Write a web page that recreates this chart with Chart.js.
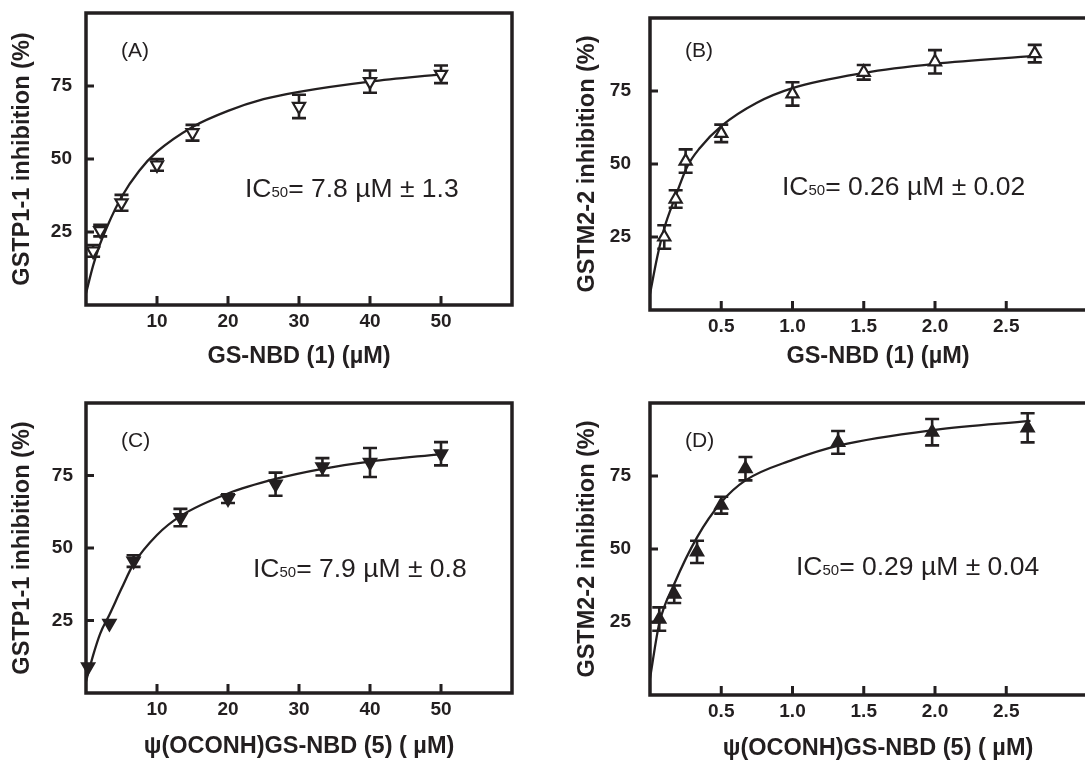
<!DOCTYPE html>
<html>
<head>
<meta charset="utf-8">
<title>GST inhibition curves</title>
<script src="https://cdn.jsdelivr.net/npm/chart.js@4.4.0/dist/chart.umd.min.js"></script>
<style>
	html, body { margin: 0; padding: 0; background: #fff; width: 1085px; height: 760px; overflow: hidden; }
	canvas { position: absolute; }
</style>
</head>
<body>
<canvas id="panelA" width="545" height="380" style="left:0px;top:0px"></canvas>
<canvas id="panelB" width="600" height="380" style="left:545px;top:0px"></canvas>
<canvas id="panelC" width="545" height="380" style="left:0px;top:380px"></canvas>
<canvas id="panelD" width="600" height="380" style="left:545px;top:380px"></canvas>
<script>
// Data (concentration in uM, inhibition in %)

// (A) GSTP1-1 / GS-NBD (1)
const concA = [1, 2, 5, 10, 15, 30, 40, 50];
const inhA = [18.5, 25.5, 35, 48, 59, 68, 76.5, 79];
const errA = [2, 2, 2.7, 2, 2.7, 4, 3.8, 3];
const curveXA = [0, 1, 2, 3, 5, 7.5, 10, 15, 20, 25, 30, 40, 50];
const curveYA = [4, 13.5, 21, 27, 37, 46, 52.5, 61, 66.5, 70.5, 73, 76.5, 79];

// (B) GSTM2-2 / GS-NBD (1)
const concB = [0.1, 0.18, 0.25, 0.5, 1.0, 1.5, 2.0, 2.7];
const inhB = [25, 38, 51, 60.5, 74, 81.4, 85, 87.8];
const errB = [4, 3, 4, 3, 4, 2.5, 4, 3];
const curveXB = [0, 0.05, 0.1, 0.18, 0.26, 0.35, 0.5, 0.75, 1.0, 1.5, 2.0, 2.7];
const curveYB = [5.5, 18, 28, 39, 49, 55.5, 63, 71, 76, 81.2, 84.3, 87];

// (C) GSTP1-1 / psi(OCONH)GS-NBD (5)
const concC = [0.3, 3.3, 6.7, 13.3, 20, 26.7, 33.3, 40, 50];
const inhC = [9, 24, 45.5, 60.5, 67, 72, 78, 79.5, 82.5];
const errC = [0, 0, 2, 3, 1.5, 4, 3, 5, 4];
const curveXC = [0, 1, 2, 3.3, 5, 6.7, 10, 13.3, 20, 26.7, 33.3, 40, 50];
const curveYC = [4, 13, 20.5, 27, 36, 44.5, 54.5, 61, 68.8, 73.8, 77.3, 79.8, 82.4];

// (D) GSTM2-2 / psi(OCONH)GS-NBD (5)
const concD = [0.065, 0.17, 0.33, 0.5, 0.67, 1.32, 1.98, 2.65];
const inhD = [26, 34.5, 49, 65, 77.5, 86.5, 90, 91.5];
const errD = [4, 3, 3.8, 2.9, 4, 3.9, 4.5, 5];
const curveXD = [0, 0.065, 0.17, 0.33, 0.5, 0.67, 1.0, 1.33, 2.0, 2.67];
const curveYD = [5.7, 24.5, 38, 54, 66, 73.5, 80.5, 85.5, 90.8, 93.9];

// Tick values
const yTicks = [25, 50, 75];
const xTicksP1 = [10, 20, 30, 40, 50];
const xTicksM2 = [0.5, 1.0, 1.5, 2.0, 2.5];

const INK = '#231f20';
const FONT = "'Liberation Sans', Arial, Helvetica, sans-serif";

// draws error bars, the frame, inward ticks and the text annotations
const figureDecor = {
	id: 'figureDecor',
	beforeDatasetsDraw(chart) {
		const { ctx, scales: { x, y } } = chart;
		const ds = chart.data.datasets[1];
		ctx.save();
		ctx.strokeStyle = INK;
		ctx.lineWidth = 2.6;
		ds.data.forEach((p, i) => {
			const e = ds.errors[i];
			if (!e) return;
			const px = x.getPixelForValue(p.x);
			const top = y.getPixelForValue(p.y + e);
			const bot = y.getPixelForValue(p.y - e);
			ctx.beginPath();
			ctx.moveTo(px, top); ctx.lineTo(px, bot);
			ctx.moveTo(px - 7, top); ctx.lineTo(px + 7, top);
			ctx.moveTo(px - 7, bot); ctx.lineTo(px + 7, bot);
			ctx.stroke();
		});
		ctx.restore();
	},
	afterDraw(chart, args, opts) {
		const { ctx, chartArea: a, scales: { x, y } } = chart;
		ctx.save();
		ctx.strokeStyle = INK;
		ctx.lineWidth = 3.5;
		ctx.strokeRect(a.left, a.top, a.right - a.left, a.bottom - a.top);

		ctx.lineWidth = 3;
		ctx.beginPath();
		x.ticks.forEach(t => {
			const px = x.getPixelForValue(t.value);
			ctx.moveTo(px, a.bottom); ctx.lineTo(px, a.bottom - 9);
		});
		y.ticks.forEach(t => {
			const py = y.getPixelForValue(t.value);
			ctx.moveTo(a.left, py); ctx.lineTo(a.left + 8, py);
		});
		ctx.stroke();

		ctx.fillStyle = INK;
		ctx.textBaseline = 'alphabetic';
		ctx.font = `21px ${FONT}`;
		ctx.fillText(opts.label, opts.labelX, opts.labelY);

		let cx = opts.icX;
		ctx.font = `26.5px ${FONT}`;
		ctx.fillText('IC', cx, opts.icY);
		cx += ctx.measureText('IC').width;
		ctx.font = `15px ${FONT}`;
		ctx.fillText('50', cx, opts.icY);
		cx += ctx.measureText('50').width;
		ctx.font = `26.5px ${FONT}`;
		ctx.fillText(`= ${opts.ic} \u00b5M \u00b1 ${opts.sd}`, cx, opts.icY);
		ctx.restore();
	}
};

const makePanel = (id, p) =>
	new Chart(document.getElementById(id), {
		type: 'scatter',
		data: {
			datasets: [
				{
					type: 'line',
					data: p.curveX.map((v, i) => ({ x: v, y: p.curveY[i] })),
					borderColor: INK,
					borderWidth: 2.3,
					pointRadius: 0,
					cubicInterpolationMode: 'monotone',
					fill: false,
					order: 2
				},
				{
					data: p.conc.map((v, i) => ({ x: v, y: p.inh[i] })),
					errors: p.err,
					pointStyle: 'triangle',
					rotation: p.down ? 180 : 0,
					pointRadius: 7,
					pointBorderWidth: 2.2,
					borderColor: INK,
					backgroundColor: p.filled ? INK : '#fff',
					clip: false,
					order: 1
				}
			]
		},
		options: {
			responsive: false,
			animation: false,
			devicePixelRatio: 1,
			layout: { padding: { left: 0, top: p.padTop, right: p.padRight, bottom: 0 } },
			plugins: {
				legend: { display: false },
				tooltip: { enabled: false },
				figureDecor: p.decor
			},
			scales: {
				x: {
					type: 'linear',
					min: 0,
					max: p.xMax,
					afterBuildTicks: s => { s.ticks = p.xTicks.map(v => ({ value: v })); },
					afterFit: s => {
						s.height = p.xAxisH;
						s.paddingLeft = 0;
						s.paddingRight = 0;
					},
					grid: { display: false, drawTicks: false },
					border: { display: false },
					ticks: {
						padding: 5,
						color: INK,
						font: { family: FONT, size: 19, weight: 'bold' },
						callback: v => p.xFmt(v)
					},
					title: {
						display: true,
						text: p.xTitle,
						color: INK,
						font: { family: FONT, size: 23.5, weight: 'bold', lineHeight: 1 },
						padding: { top: 0, bottom: p.xTitlePad }
					}
				},
				y: {
					type: 'linear',
					min: 0,
					max: 100,
					afterBuildTicks: s => { s.ticks = yTicks.map(v => ({ value: v })); },
					afterFit: s => {
						s.width = p.yAxisW;
						s.paddingTop = 0;
						s.paddingBottom = 0;
					},
					grid: { display: false, drawTicks: false },
					border: { display: false },
					ticks: {
						padding: p.yTickPad,
						color: INK,
						font: { family: FONT, size: 19, weight: 'bold' }
					},
					title: {
						display: true,
						text: p.yTitle,
						color: INK,
						font: { family: FONT, size: 23.5, weight: 'bold', lineHeight: 1 },
						padding: { top: p.yTitlePad, bottom: 0 }
					}
				}
			}
		},
		plugins: [figureDecor]
	});

makePanel('panelA', {
	conc: concA, inh: inhA, err: errA, curveX: curveXA, curveY: curveYA,
	down: true, filled: false,
	xMax: 60, xTicks: xTicksP1, xFmt: v => String(v),
	padTop: 13, padRight: 33, xAxisH: 75, yAxisW: 86,
	yTickPad: 14, xTitlePad: 12, yTitlePad: 11,
	xTitle: 'GS-NBD (1) (\u00b5M)', yTitle: 'GSTP1-1 inhibition (%)',
	decor: { label: '(A)', labelX: 121, labelY: 57, icX: 245, icY: 197, ic: '7.8', sd: '1.3' }
});

makePanel('panelB', {
	conc: concB, inh: inhB, err: errB, curveX: curveXB, curveY: curveYB,
	down: false, filled: false,
	xMax: 3.2, xTicks: xTicksM2, xFmt: v => v.toFixed(1),
	padTop: 18, padRight: 39, xAxisH: 70, yAxisW: 105,
	yTickPad: 19, xTitlePad: 12, yTitlePad: 31,
	xTitle: 'GS-NBD (1) (\u00b5M)', yTitle: 'GSTM2-2 inhibition (%)',
	decor: { label: '(B)', labelX: 140, labelY: 57, icX: 237, icY: 195, ic: '0.26', sd: '0.02' }
});

makePanel('panelC', {
	conc: concC, inh: inhC, err: errC, curveX: curveXC, curveY: curveYC,
	down: true, filled: true,
	xMax: 60, xTicks: xTicksP1, xFmt: v => String(v),
	padTop: 23, padRight: 33, xAxisH: 67, yAxisW: 86,
	yTickPad: 13, xTitlePad: 1.5, yTitlePad: 11,
	xTitle: '\u03c8(OCONH)GS-NBD (5) ( \u00b5M)', yTitle: 'GSTP1-1 inhibition (%)',
	decor: { label: '(C)', labelX: 121, labelY: 67, icX: 253, icY: 197, ic: '7.9', sd: '0.8' }
});

makePanel('panelD', {
	conc: concD, inh: inhD, err: errD, curveX: curveXD, curveY: curveYD,
	down: false, filled: true,
	xMax: 3.2, xTicks: xTicksM2, xFmt: v => v.toFixed(1),
	padTop: 23, padRight: 39, xAxisH: 65, yAxisW: 105,
	yTickPad: 19, xTitlePad: 0, yTitlePad: 31,
	xTitle: '\u03c8(OCONH)GS-NBD (5) ( \u00b5M)', yTitle: 'GSTM2-2 inhibition (%)',
	decor: { label: '(D)', labelX: 140, labelY: 67, icX: 251, icY: 195, ic: '0.29', sd: '0.04' }
});
</script>
</body>
</html>
